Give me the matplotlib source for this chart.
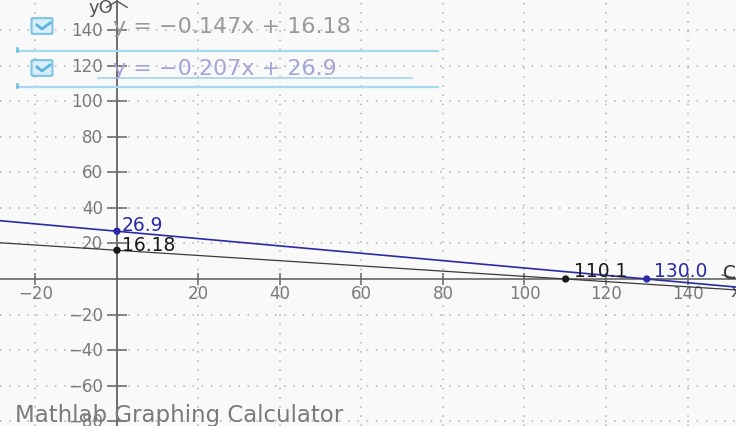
import matplotlib.pyplot as plt
from matplotlib.patches import FancyBboxPatch
import numpy as np

plt.rcParams["font.family"] = ["DejaVu Sans"]

# lines y = slope * x + intercept
slopes = [-0.147, -0.207]
intercepts = [16.18, 26.9]
line_colors = ["#3a3a3a", "#2a2aa8"]
eq_labels = ["y = \u22120.147x + 16.18", "y = \u22120.207x + 26.9"]
eq_colors = ["#9a9a9a", "#a4a4d8"]

# marked points and their labels
pt_x = [0, 0, 110.1, 130.0]
pt_y = [16.18, 26.9, 0, 0]
pt_labels = ["16.18", "26.9", "110.1", "130.0"]
pt_colors = ["#1a1a1a", "#2a2aa8", "#1a1a1a", "#2a2aa8"]

x_ticks = [-20, 20, 40, 60, 80, 100, 120, 140]
y_ticks = [-80, -60, -40, -20, 20, 40, 60, 80, 100, 120, 140]

xmin, xmax = -28.7, 151.9
ymin, ymax = -82.8, 157.7

fig = plt.figure(figsize=(7.36, 4.27), dpi=100)
fig.patch.set_facecolor("#f9f9f9")
ax = fig.add_axes([0, 0, 1, 1])
ax.set_facecolor("#f9f9f9")
ax.set_xlim(xmin, xmax)
ax.set_ylim(ymin, ymax)
ax.axis("off")

# dotted grid
for v in x_ticks:
    ax.axvline(v, color="#b0b0b0", lw=1.1, ls=(0, (1, 5)), zorder=1)
for v in y_ticks:
    ax.axhline(v, color="#b0b0b0", lw=1.1, ls=(0, (1, 5)), zorder=1)

# axes
ax.axhline(0, color="#666666", lw=1.2, zorder=2)
ax.axvline(0, color="#555555", lw=1.2, zorder=2)
ax.plot(x_ticks, [0] * len(x_ticks), ls="none", marker="|", ms=8, mew=1.1,
        color="#666666", zorder=2)
ax.plot([0] * len(y_ticks), y_ticks, ls="none", marker="_", ms=14, mew=1.1,
        color="#666666", zorder=2)
for v in x_ticks:
    ax.annotate(str(v).replace("-", "\u2212"), (v, 0), xytext=(0, -14),
                textcoords="offset pixels", ha="center", va="center",
                fontsize=12, color="#7a7a7a")
for v in y_ticks:
    ax.annotate(str(v).replace("-", "\u2212"), (0, v), xytext=(-14, 0),
                textcoords="offset pixels", ha="right", va="center",
                fontsize=12, color="#7a7a7a")

# axis arrows and names
ax.plot([-2.5, 0, 2.5], [153, 156.5, 153], color="#555555", lw=1.0)
ax.text(-1.0, 158, "yO", ha="right", va="top", fontsize=13, color="#555555")
ax.plot([148.5, 151.9], [2.3, 0.3], color="#555555", lw=1.0)
ax.text(150.5, -7, "x", ha="left", va="center", fontsize=13, color="#555555")

# lines
xs = np.array([xmin, xmax])
for m, b, c, w in zip(slopes, intercepts, line_colors, [0.9, 1.2]):
    ax.plot(xs, m * xs + b, color=c, lw=w, zorder=3)

# points
ax.scatter(pt_x, pt_y, s=18, c=pt_colors, zorder=4)
offsets = [(5, 6), (5, 7), (8, 8), (7, 8)]
for x, y, lab, c, off in zip(pt_x, pt_y, pt_labels, pt_colors, offsets):
    ax.annotate(lab, (x, y), xytext=off, textcoords="offset pixels",
                ha="left", va="center", fontsize=13.5, color=c, zorder=5)
ax.text(0.982, 0.36, "C", transform=ax.transAxes, ha="left", va="center",
        fontsize=13.5, color="#333333")

# equation entries (checkboxes + texts)
for i, (lab, c) in enumerate(zip(eq_labels, eq_colors)):
    yc = 1 - (27 + 42 * i) / 427
    box = FancyBboxPatch((33 / 736, yc - 7 / 427), 18 / 736, 14 / 427,
                         boxstyle="round,pad=0.002", transform=fig.transFigure,
                         facecolor="#d8eef8", edgecolor="#7cc4e4", lw=1.5, zorder=6)
    fig.add_artist(box)
    fig.add_artist(plt.Line2D([37 / 736, 42 / 736, 50 / 736],
                              [yc + 1 / 427, yc - 3 / 427, yc + 3 / 427],
                              transform=fig.transFigure, color="#5ab4de", lw=2, zorder=7))
    fig.text(113 / 736, yc, lab, ha="left", va="center", fontsize=16, color=c)

for yp in [52, 88]:
    fig.add_artist(plt.Line2D([17 / 736, 438 / 736], [1 - yp / 427] * 2,
                              transform=fig.transFigure, color="#a6d8ee", lw=1.6))
    fig.add_artist(plt.Line2D([17 / 736] * 2, [1 - yp / 427, 1 - (yp - 3) / 427],
                              transform=fig.transFigure, color="#6abfe3", lw=1.8))
fig.add_artist(plt.Line2D([98 / 736, 412 / 736], [1 - 79 / 427] * 2,
                          transform=fig.transFigure, color="#a6d8ee", lw=1.3))

# watermark
fig.text(15 / 736, 1 - 416 / 427, "Mathlab Graphing Calculator", ha="left",
         va="center", fontsize=16.5, color="#7a7a7a")

fig.savefig("out.png", dpi=100, facecolor=fig.get_facecolor())
